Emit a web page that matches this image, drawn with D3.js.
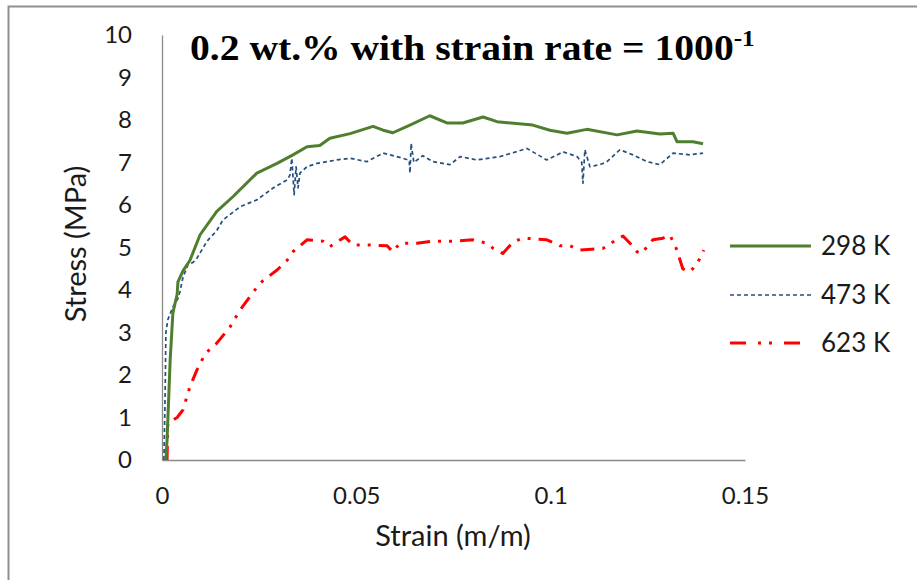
<!DOCTYPE html>
<html>
<head>
<meta charset="utf-8">
<script src="https://cdn.jsdelivr.net/npm/d3@7"></script>
<style>
  html, body { margin: 0; padding: 0; background: #fff; }
  svg { display: block; }
</style>
</head>
<body>
<svg id="chart" width="917" height="580"></svg>
<script>
// ---- data ----
const xTicks = [0, 0.05, 0.1, 0.15];
const xTickLabels = ["0", "0.05", "0.1", "0.15"];
const yTicks = [0, 1, 2, 3, 4, 5, 6, 7, 8, 9, 10];
const seriesNames = ["298 K", "473 K", "623 K"];

const strain298 = [0.001, 0.0013, 0.0021, 0.0028, 0.0039, 0.0041, 0.0054, 0.0072, 0.0098, 0.0141, 0.0183, 0.0244, 0.0296, 0.0337, 0.0373, 0.0406, 0.0432, 0.0484, 0.0543, 0.0569, 0.0594, 0.0638, 0.0689, 0.0733, 0.0774, 0.0826, 0.0862, 0.0954, 0.0998, 0.1042, 0.1093, 0.1171, 0.1222, 0.1281, 0.1315, 0.1325, 0.1366, 0.1392];
const stress298 = [0, 0.47, 2.35, 3.46, 3.9, 4.19, 4.45, 4.7, 5.3, 5.85, 6.2, 6.75, 6.98, 7.18, 7.37, 7.4, 7.57, 7.68, 7.85, 7.76, 7.7, 7.88, 8.1, 7.93, 7.93, 8.07, 7.96, 7.88, 7.76, 7.69, 7.78, 7.65, 7.74, 7.67, 7.69, 7.49, 7.49, 7.44];

const strain473 = [0.0005, 0.0008, 0.001, 0.0015, 0.0028, 0.0041, 0.0046, 0.0054, 0.0067, 0.008, 0.009, 0.0116, 0.0141, 0.0157, 0.0201, 0.0244, 0.0286, 0.0322, 0.0329, 0.0334, 0.034, 0.0345, 0.035, 0.0355, 0.0373, 0.0399, 0.045, 0.0484, 0.0527, 0.0569, 0.062, 0.0636, 0.0638, 0.0641, 0.0648, 0.0671, 0.0697, 0.0741, 0.0767, 0.081, 0.087, 0.0939, 0.099, 0.1032, 0.1068, 0.108, 0.1083, 0.1088, 0.1101, 0.1127, 0.1145, 0.1178, 0.1212, 0.1248, 0.1281, 0.1315, 0.1358, 0.1392];
const stress473 = [0, 1.5, 3.0, 3.3, 3.6, 3.8, 3.95, 4.3, 4.6, 4.65, 4.75, 5.15, 5.4, 5.65, 5.96, 6.12, 6.4, 6.59, 6.7, 7.1, 6.24, 6.9, 6.4, 6.75, 6.9, 6.98, 7.06, 7.1, 7.02, 7.22, 7.1, 7.05, 6.75, 7.45, 7.0, 7.16, 7.02, 6.95, 7.14, 7.06, 7.14, 7.33, 7.06, 7.25, 7.14, 7.0, 6.51, 7.3, 6.9, 6.95, 7.02, 7.3, 7.18, 7.02, 6.95, 7.22, 7.18, 7.22];

const strain623 = [0.0013, 0.0015, 0.0039, 0.0054, 0.0072, 0.009, 0.0111, 0.0141, 0.0175, 0.0201, 0.0226, 0.0252, 0.0296, 0.0322, 0.0337, 0.0373, 0.0414, 0.0432, 0.045, 0.0471, 0.0491, 0.0527, 0.0579, 0.0594, 0.0612, 0.0656, 0.0697, 0.0749, 0.08, 0.0836, 0.0852, 0.0877, 0.0903, 0.0929, 0.0965, 0.099, 0.1024, 0.105, 0.1075, 0.1106, 0.1135, 0.116, 0.1186, 0.1204, 0.1222, 0.1235, 0.1248, 0.1263, 0.1289, 0.1307, 0.1325, 0.1333, 0.134, 0.1358, 0.1376, 0.1384, 0.1394];
const stress623 = [0, 0.87, 1.0, 1.18, 1.73, 2.12, 2.5, 2.75, 3.13, 3.53, 3.84, 4.16, 4.47, 4.7, 4.9, 5.18, 5.15, 5.02, 5.13, 5.25, 5.06, 5.06, 5.04, 4.9, 5.1, 5.1, 5.15, 5.15, 5.18, 5.1, 4.98, 4.86, 5.13, 5.22, 5.2, 5.18, 5.04, 5.04, 4.94, 4.96, 4.98, 5.13, 5.27, 5.1, 4.9, 4.86, 5.02, 5.18, 5.22, 5.29, 4.94, 4.7, 4.5, 4.43, 4.6, 4.75, 4.94];

// ---- drawing ----
const svg = d3.select("#chart");
const mLeft = 162, mRight = 745, mTop = 35, mBottom = 460;
const x = d3.scaleLinear().domain([0, 0.15]).range([mLeft, mRight]);
const y = d3.scaleLinear().domain([0, 10]).range([mBottom, mTop]);
const axisColor = "#8a8a8a";
const labelFont = "Lato, 'Open Sans', sans-serif";
const textColor = "#1a1a1a";

// outer frame
svg.append("path")
  .attr("d", "M8.5,590 L8.5,6.5 L930,6.5")
  .attr("fill", "none").attr("stroke", "#8f8f8f").attr("stroke-width", 2);

// axes
const xAxis = d3.axisBottom(x).tickValues(xTicks).tickSize(0).tickPadding(27)
  .tickFormat((d, i) => xTickLabels[i]);
const gx = svg.append("g").attr("transform", `translate(0,${mBottom})`).call(xAxis);
gx.select(".domain").attr("stroke", axisColor).attr("stroke-width", 1.3);
gx.selectAll("text").attr("font-family", labelFont).attr("font-size", 24).attr("fill", textColor);

const yAxis = d3.axisLeft(y).tickValues(yTicks).tickSize(0).tickPadding(30)
  .tickFormat(d3.format("d"));
const gy = svg.append("g").attr("transform", `translate(${mLeft},0)`).call(yAxis);
gy.select(".domain").attr("stroke", axisColor).attr("stroke-width", 1.3);
gy.selectAll("text").attr("font-family", labelFont).attr("font-size", 24).attr("fill", textColor);

// axis titles
svg.append("text").attr("x", 453).attr("y", 546).attr("text-anchor", "middle")
  .attr("font-family", labelFont).attr("font-size", 29).attr("fill", textColor)
  .text("Strain (m/m)");
svg.append("text").attr("transform", "translate(86,244) rotate(-90)").attr("text-anchor", "middle")
  .attr("font-family", labelFont).attr("font-size", 29).attr("fill", textColor)
  .text("Stress (MPa)");

// title
const title = svg.append("text").attr("transform", "translate(190,60) scale(1.1,1)")
  .attr("font-family", "'Liberation Serif', 'Times New Roman', serif")
  .attr("font-weight", "bold").attr("font-size", 36).attr("fill", "#000");
title.append("tspan").text("0.2 wt.% with strain rate = 1000");
title.append("tspan").attr("dy", -14).attr("font-size", 23).text("-1");

// series
const series = [
  { name: seriesNames[0], xs: strain298, ys: stress298, color: "#4f7f2e", width: 3, dash: null },
  { name: seriesNames[1], xs: strain473, ys: stress473, color: "#24507f", width: 1.7, dash: "4 3" },
  { name: seriesNames[2], xs: strain623, ys: stress623, color: "#ff0000", width: 3, dash: "14 8 3 8 3 8" }
];
const line = d3.line().x(d => x(d[0])).y(d => y(d[1]));
[series[2], series[1], series[0]].forEach(s => {
  svg.append("path")
    .datum(d3.zip(s.xs, s.ys))
    .attr("d", line)
    .attr("fill", "none")
    .attr("stroke", s.color)
    .attr("stroke-width", s.width)
    .attr("stroke-linejoin", "round")
    .attr("stroke-dasharray", s.dash);
});

// legend
const legendY = [246, 295, 343];
series.forEach((s, i) => {
  const g = svg.append("g").attr("transform", `translate(0,${legendY[i]})`);
  g.append("line").attr("x1", 730).attr("x2", 811).attr("y1", 0).attr("y2", 0)
    .attr("stroke", s.color).attr("stroke-width", s.width === 3 ? 3 : 1.4)
    .attr("stroke-dasharray", i === 2 ? "16 12 3 8 3 12" : s.dash);
  g.append("text").attr("x", 821).attr("y", 0).attr("dy", "0.36em")
    .attr("font-family", labelFont).attr("font-size", 26).attr("fill", textColor)
    .text(s.name);
});
</script>
</body>
</html>
